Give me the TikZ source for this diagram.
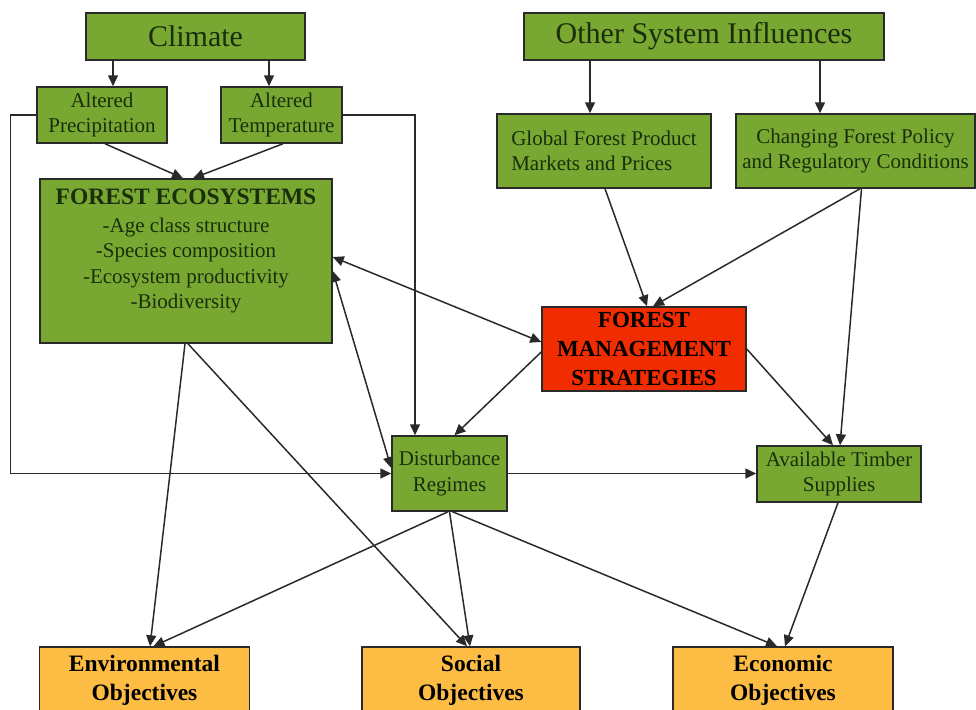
\documentclass[tikz,border=0pt]{standalone}
\usepackage{fontspec}
\setmainfont{Liberation Serif}
\usetikzlibrary{arrows.meta}
\definecolor{boxgreen}{HTML}{78A832}
\definecolor{boxred}{HTML}{F02C00}
\definecolor{boxorange}{HTML}{FDBD45}
\definecolor{textgreen}{HTML}{1A2E0C}
\definecolor{linegray}{HTML}{2A2A2A}
\begin{document}
\begin{tikzpicture}[x=1pt,y=-1pt,line width=1.5pt,draw=linegray,
	>={Triangle[length=11pt,width=10pt]},
	gbox/.style={rectangle,draw,fill=boxgreen,text=textgreen,align=center,inner sep=2pt,
		font=\fontsize{21}{25.5}\selectfont},
	rbox/.style={rectangle,draw,fill=boxred,text=black,align=center,inner sep=2pt,
		font=\bfseries\fontsize{23}{29}\selectfont},
	obox/.style={rectangle,draw,fill=boxorange,text=black,align=center,inner sep=2pt,
		font=\bfseries\fontsize{23.5}{29}\selectfont}]
	\useasboundingbox (0,0) rectangle (976,709);
	\clip (0,0) rectangle (976,709);
	\node (CL) at (195.5, 36.5)	[gbox, minimum width=219, minimum height=47, font=\fontsize{30}{36}\selectfont]	{Climate};
	\node (OS) at (704, 36.5)	[gbox, minimum width=360, minimum height=47, font=\fontsize{30}{36}\selectfont]	{Other System Influences};
	\node (AP) at (102, 115)	[gbox, minimum width=130, minimum height=56]	{Altered\\Precipitation};
	\node (AT) at (281.5, 115)	[gbox, minimum width=121, minimum height=56]	{Altered\\Temperature};
	\node (GF) at (604, 151)	[gbox, minimum width=214, minimum height=74, align=left]	{Global Forest Product\\Markets and Prices};
	\node (CF) at (855.5, 151)	[gbox, minimum width=239, minimum height=74]	{Changing Forest Policy\\and Regulatory Conditions};
	\node (FE) at (186, 261)	[gbox, minimum width=292, minimum height=164]	{};
	\node (FEtext) at (FE.north)	[anchor=north, yshift=-7, align=center, text=textgreen, font=\fontsize{21}{25.5}\selectfont]
		{{\bfseries\fontsize{23.5}{28}\selectfont FOREST ECOSYSTEMS}\\[2pt]-Age class structure\\-Species composition\\-Ecosystem productivity\\-Biodiversity};
	\node (FM) at (644, 349)	[rbox, minimum width=204, minimum height=84]	{FOREST\\MANAGEMENT\\STRATEGIES};
	\node (DR) at (449.5, 473.5)	[gbox, minimum width=115, minimum height=75]	{Disturbance\\Regimes};
	\node (TS) at (839, 474)	[gbox, minimum width=164, minimum height=56]	{Available Timber\\Supplies};
	\node (EO) at (144.5, 680)	[obox, minimum width=210, minimum height=66]	{Environmental\\Objectives};
	\node (SO) at (471, 680)	[obox, minimum width=218, minimum height=66]	{Social\\Objectives};
	\node (EC) at (783, 680)	[obox, minimum width=220, minimum height=66]	{Economic\\Objectives};
	\coordinate (APin) at ([xshift=11]AP.north);
	\coordinate (ATin) at ([xshift=-12.5]AT.north);
	\coordinate (GFin) at ([xshift=-14]GF.north);
	\coordinate (CFin) at ([xshift=-35.5]CF.north);
	\draw[->] (APin |- CL.south) -- (APin);
	\draw[->] (ATin |- CL.south) -- (ATin);
	\draw[->] (GFin |- OS.south) -- (GFin);
	\draw[->] (CFin |- OS.south) -- (CFin);
	\draw[->] ([xshift=3]AP.south) -- ([xshift=-3]FE.north);
	\draw[->] ([xshift=1.5]AT.south) -- ([xshift=7]FE.north);
	\draw[->] (AP.west) -- ++(-26,0) |- (DR.west);
	\draw[->] (AT.east) -| ([xshift=-34.5]DR.north);
	\draw[->] ([xshift=1]GF.south) -- ([xshift=3]FM.north);
	\draw[->] ([xshift=4.5]CF.south) -- ([xshift=9]FM.north);
	\draw[->] ([xshift=6]CF.south) -- ([xshift=1]TS.north);
	\draw[->] (FM.east) -- ([xshift=-6]TS.north);
	\draw[<->] ([yshift=4]FE.east) -- ([yshift=7]FM.west);
	\draw[<->] ([yshift=-10]FE.east) -- ([yshift=5.5]DR.west);
	\draw[->] ([yshift=-3]FM.west) -- ([xshift=5]DR.north);
	\draw[->] (DR.east) -- (DR.east -| TS.west);
	\draw[->] ([xshift=-1]FE.south) -- ([xshift=5.5]EO.north);
	\draw[->] ([xshift=2]FE.south) -- ([xshift=-4]SO.north);
	\draw[->] ([xshift=-1.5]DR.south) -- ([xshift=9]EO.north);
	\draw[->] (DR.south) -- ([xshift=-1]SO.north);
	\draw[->] ([xshift=3]DR.south) -- ([xshift=-6]EC.north);
	\draw[->] ([xshift=-1]TS.south) -- ([xshift=2]EC.north);
\end{tikzpicture}
\end{document}
